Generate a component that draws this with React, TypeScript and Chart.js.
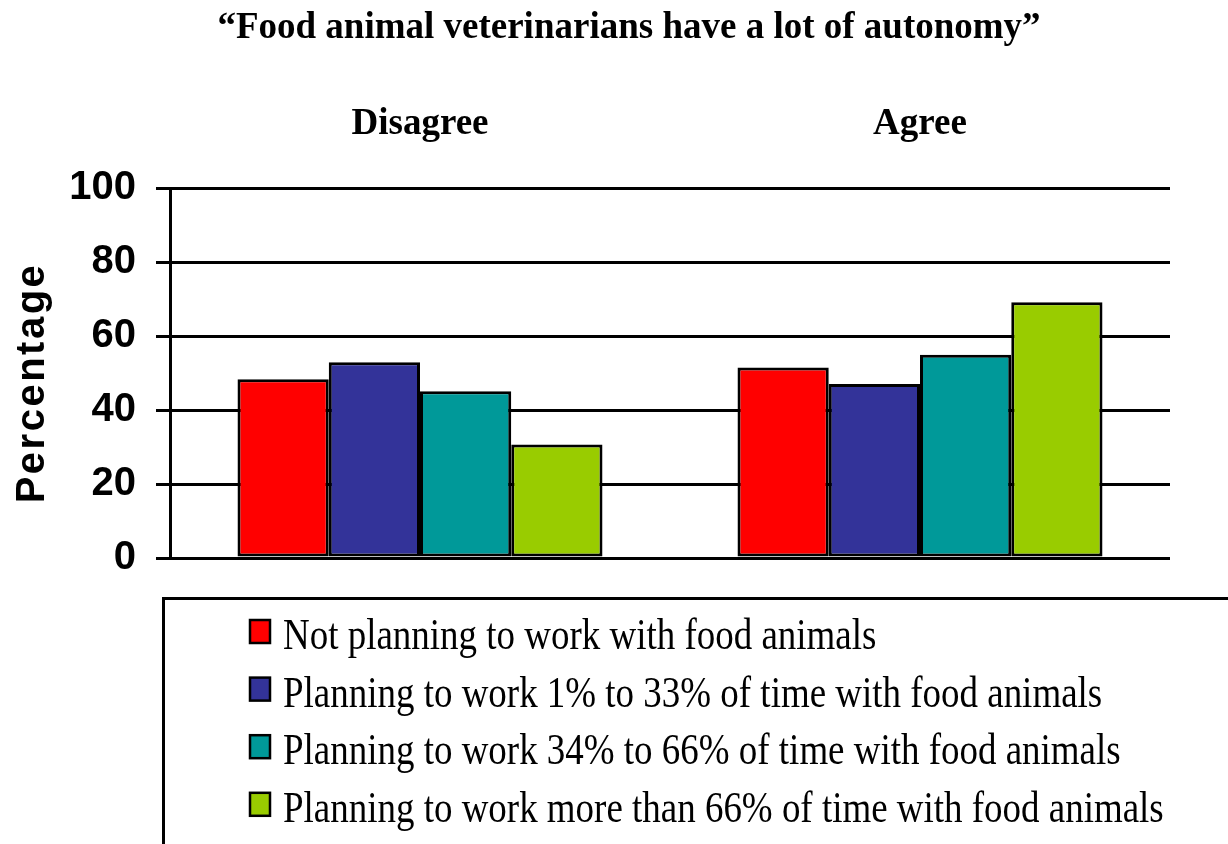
import React, { useEffect, useRef } from "react";
import { Chart, registerables } from "chart.js";

Chart.register(...registerables);

const titleText = "\u201CFood animal veterinarians have a lot of autonomy\u201D";
const categories = ["Disagree", "Agree"];
const seriesLabels = [
  "Not planning to work with food animals",
  "Planning to work 1% to 33% of time with food animals",
  "Planning to work 34% to 66% of time with food animals",
  "Planning to work more than 66% of time with food animals",
];
const seriesColors = ["#FF0000", "#333399", "#009999", "#99CC00"];
const notPlanning = [48.3, 51.5];
const plan1to33 = [52.9, 47.0];
const plan34to66 = [45.1, 54.9];
const planOver66 = [30.7, 69.1];
const seriesValues = [notPlanning, plan1to33, plan34to66, planOver66];
const yTickValues = [0, 20, 40, 60, 80, 100];
const yAxisTitle = "Percentage";

export default function App() {
  const ref = useRef<HTMLCanvasElement | null>(null);

  useEffect(() => {
    const canvas = ref.current;
    if (!canvas) return;

    const extrasPlugin = {
      id: "extras",
      afterDraw(chart: any) {
        const ctx = chart.ctx as CanvasRenderingContext2D;
        const area = chart.chartArea;

        // title
        ctx.save();
        ctx.font = "bold 37px 'Liberation Serif', 'Times New Roman', serif";
        ctx.fillStyle = "#000";
        ctx.textAlign = "center";
        ctx.textBaseline = "middle";
        ctx.fillText(titleText, 629, 28);
        ctx.restore();

        // y axis title
        ctx.save();
        ctx.translate(33, (area.top + area.bottom) / 2 + 10);
        ctx.rotate(-Math.PI / 2);
        ctx.font = "bold 40px 'Liberation Sans', Arial, sans-serif";
        (ctx as any).letterSpacing = "2.5px";
        ctx.fillStyle = "#000";
        ctx.textAlign = "center";
        ctx.textBaseline = "middle";
        ctx.fillText(yAxisTitle, 0, 0);
        ctx.restore();

        // legend box
        ctx.save();
        ctx.strokeStyle = "#000";
        ctx.lineWidth = 3;
        ctx.beginPath();
        ctx.moveTo(1240, 598.5);
        ctx.lineTo(163.5, 598.5);
        ctx.lineTo(163.5, 860);
        ctx.stroke();
        const ds = chart.data.datasets;
        for (let i = 0; i < ds.length; i++) {
          const baseY = 649 + i * 57.6;
          ctx.fillStyle = ds[i].backgroundColor;
          ctx.fillRect(250, baseY - 29, 20, 23);
          ctx.lineWidth = 2.5;
          ctx.strokeStyle = "#000";
          ctx.strokeRect(250, baseY - 29, 20, 23);
          ctx.save();
          ctx.translate(283, baseY);
          ctx.scale(0.84, 1);
          ctx.font = "44px 'Liberation Serif', 'Times New Roman', serif";
          ctx.fillStyle = "#000";
          ctx.textAlign = "left";
          ctx.textBaseline = "alphabetic";
          ctx.fillText(ds[i].label, 0, 0);
          ctx.restore();
        }
        ctx.restore();
      },
    };

    const chart = new Chart(canvas, {
      type: "bar",
      data: {
        labels: categories,
        datasets: seriesValues.map((vals, i) => ({
          label: seriesLabels[i],
          data: vals,
          backgroundColor: seriesColors[i],
          borderColor: "#000",
          borderWidth: 3,
          borderSkipped: false,
          categoryPercentage: 0.73,
          barPercentage: 1.0,
        })),
      },
      options: {
        responsive: false,
        animation: false,
        layout: { padding: { left: 30, right: 58, top: 60, bottom: 286 } },
        plugins: {
          legend: { display: false },
          tooltip: { enabled: false },
          title: { display: false },
        },
        scales: {
          x: {
            position: "top",
            grid: { display: false, drawTicks: false },
            border: { display: false },
            ticks: {
              color: "#000",
              padding: 41,
              font: { family: "'Liberation Serif', 'Times New Roman', serif", size: 37, weight: "bold", lineHeight: 1.2 },
            },
            afterFit(scale: any) {
              scale.height = 128;
            },
          },
          y: {
            min: 0,
            max: 100,
            afterBuildTicks(scale: any) {
              scale.ticks = yTickValues.map((v) => ({ value: v }));
            },
            grid: { color: "#000", lineWidth: 3, tickLength: 14, drawTicks: true },
            border: { display: true, color: "#000", width: 3 },
            ticks: {
              color: "#000",
              padding: 20,
              font: { family: "'Liberation Sans', Arial, sans-serif", size: 40, weight: "bold" },
            },
            afterFit(scale: any) {
              scale.width = 140;
            },
          },
        },
      },
      plugins: [extrasPlugin],
    });

    return () => chart.destroy();
  }, []);

  return (
    <canvas
      ref={ref}
      width={1228}
      height={844}
      style={{ position: "absolute", left: 0, top: 0, display: "block", width: 1228, height: 844 }}
    />
  );
}
